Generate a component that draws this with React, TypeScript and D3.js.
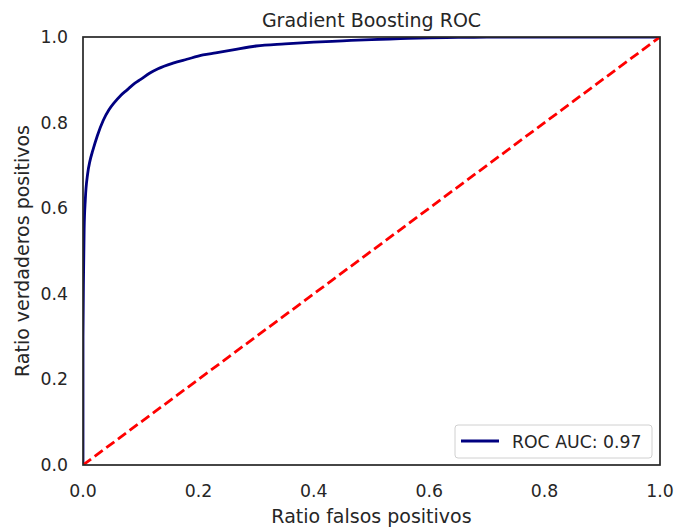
import React from "react";
import * as d3 from "d3";

const fpr = [0, 0, 0.001, 0.002, 0.004, 0.008, 0.012, 0.017, 0.025, 0.035, 0.045, 0.055, 0.065, 0.076, 0.09, 0.1, 0.116, 0.13, 0.156, 0.18, 0.208, 0.23, 0.26, 0.3, 0.35, 0.4, 0.45, 0.5, 0.55, 0.6, 0.65, 0.7, 0.8, 1.0];
const tpr = [0, 0.3, 0.45, 0.55, 0.62, 0.68, 0.71, 0.735, 0.77, 0.805, 0.83, 0.848, 0.863, 0.876, 0.892, 0.901, 0.916, 0.926, 0.939, 0.948, 0.958, 0.963, 0.97, 0.979, 0.984, 0.988, 0.991, 0.994, 0.996, 0.998, 0.999, 1.0, 1.0, 1.0];
const diagonal = [0, 1];
const ticks = [0, 0.2, 0.4, 0.6, 0.8, 1.0];
const title = "Gradient Boosting ROC";
const xLabel = "Ratio falsos positivos";
const yLabel = "Ratio verdaderos positivos";
const legendLabel = "ROC AUC: 0.97";

const W = 689, H = 528;
const L = 83, R = 660, T = 37, B = 465;
const font = "'DejaVu Sans', sans-serif";
const txt = "#262626";

export default function App() {
  const x = d3.scaleLinear().domain([0, 1]).range([L, R]);
  const y = d3.scaleLinear().domain([0, 1]).range([B, T]);
  const pts: [number, number][] = fpr.map((f, i) => [f, tpr[i]]);
  const line = d3.line<[number, number]>().x(d => x(d[0])).y(d => y(d[1])).curve(d3.curveMonotoneX);
  const diag = d3.line<number>().x(d => x(d)).y(d => y(d));
  return (
    <svg width={W} height={H} style={{ position: "absolute", left: 0, top: 0, background: "#fff" }} fontFamily={font}>
      <rect x={0} y={0} width={W} height={H} fill="#fff" />
      <defs>
        <clipPath id="clip"><rect x={L} y={T} width={R - L} height={B - T} /></clipPath>
      </defs>
      <g clipPath="url(#clip)">
        <path d={line(pts) || ""} fill="none" stroke="#000080" strokeWidth={2.8} strokeLinejoin="round" />
        <path d={diag(diagonal) || ""} fill="none" stroke="#ff0000" strokeWidth={2.8} strokeDasharray="10,4.5" />
      </g>
      <rect x={L} y={T} width={R - L} height={B - T} fill="none" stroke="#262626" strokeWidth={1.7} />
      {ticks.map(t => (
        <text key={"x" + t} x={x(t)} y={B + 32} fontSize={17.3} fill={txt} textAnchor="middle">{t.toFixed(1)}</text>
      ))}
      {ticks.map(t => (
        <text key={"y" + t} x={L - 15} y={y(t) + 6} fontSize={17.3} fill={txt} textAnchor="end">{t.toFixed(1)}</text>
      ))}
      <text x={(L + R) / 2} y={27} fontSize={19} fill={txt} textAnchor="middle">{title}</text>
      <text x={(L + R) / 2} y={523} fontSize={19} fill={txt} textAnchor="middle">{xLabel}</text>
      <text transform={`translate(29,${(T + B) / 2}) rotate(-90)`} fontSize={19} fill={txt} textAnchor="middle">{yLabel}</text>
      <rect x={455} y={425} width={197} height={33} rx={3} fill="#fff" stroke="#d0d0d0" strokeWidth={1} />
      <line x1={461} x2={499} y1={441} y2={441} stroke="#000080" strokeWidth={2.8} />
      <text x={512} y={447.5} fontSize={17.3} fill={txt}>{legendLabel}</text>
    </svg>
  );
}
